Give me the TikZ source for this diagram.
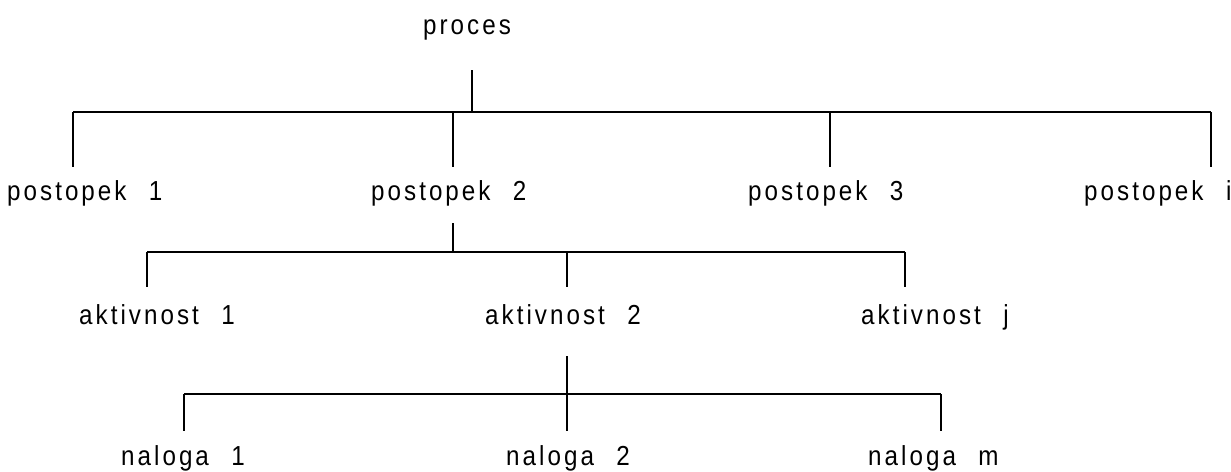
\documentclass[tikz,border=0pt]{standalone}
\usepackage{fontspec}
\newfontfamily\spaced[LetterSpace=11,WordSpace=2.3,FakeStretch=0.88]{Liberation Sans}
\usetikzlibrary{positioning}

\begin{document}
\begin{tikzpicture}[x=1pt,y=-1pt,
    lbl/.style={font=\fontsize{27.5}{32}\spaced, inner sep=0pt, anchor=base west},
    tree/.style={line width=2.4pt}]
    \useasboundingbox (0,0) rectangle (1231,471);
    % labels
    \node[lbl] (proces) at (423,34) {proces};
    \node[lbl] (post1) at (7,200) {postopek 1};
    \node[lbl] (post2) at (371,200) {postopek 2};
    \node[lbl] (post3) at (748,200) {postopek 3};
    \node[lbl] (posti) at (1084,200) {postopek i};
    \node[lbl] (akt1) at (79,324) {aktivnost 1};
    \node[lbl] (akt2) at (485,324) {aktivnost 2};
    \node[lbl] (aktj) at (861,324) {aktivnost j};
    \node[lbl] (nal1) at (121,465) {naloga 1};
    \node[lbl] (nal2) at (506,465) {naloga 2};
    \node[lbl] (nalm) at (868,465) {naloga m};
    % process level
    \coordinate (pr0) at (472,70);
    \coordinate (pr1) at (472,112);
    \draw[tree] (pr0) -- (pr1);
    \coordinate (bar1l) at (73,112);
    \coordinate (bar1r) at (1211,112);
    \draw[tree] (bar1l) -- (bar1r);
    \foreach \x/\n in {73/a,453/b,830/c,1211/d} {
        \coordinate (p\n top) at (\x,112);
        \coordinate (p\n bot) at (\x,167);
        \draw[tree] (p\n top) -- (p\n bot);
    }
    % activity level
    \coordinate (ak0) at (453,223);
    \coordinate (ak1) at (453,252);
    \draw[tree] (ak0) -- (ak1);
    \coordinate (bar2l) at (147,252);
    \coordinate (bar2r) at (905,252);
    \draw[tree] (bar2l) -- (bar2r);
    \foreach \x/\n in {147/a,567/b,905/c} {
        \coordinate (a\n top) at (\x,252);
        \coordinate (a\n bot) at (\x,287);
        \draw[tree] (a\n top) -- (a\n bot);
    }
    % task level
    \coordinate (na0) at (567,356);
    \coordinate (na1) at (567,394);
    \draw[tree] (na0) -- (na1);
    \coordinate (bar3l) at (184,394);
    \coordinate (bar3r) at (941,394);
    \draw[tree,line width=2.8pt] (bar3l) -- (bar3r);
    \foreach \x/\n in {184/a,567/b,941/c} {
        \coordinate (n\n top) at (\x,394);
        \coordinate (n\n bot) at (\x,431);
        \draw[tree] (n\n top) -- (n\n bot);
    }
\end{tikzpicture}
\end{document}
